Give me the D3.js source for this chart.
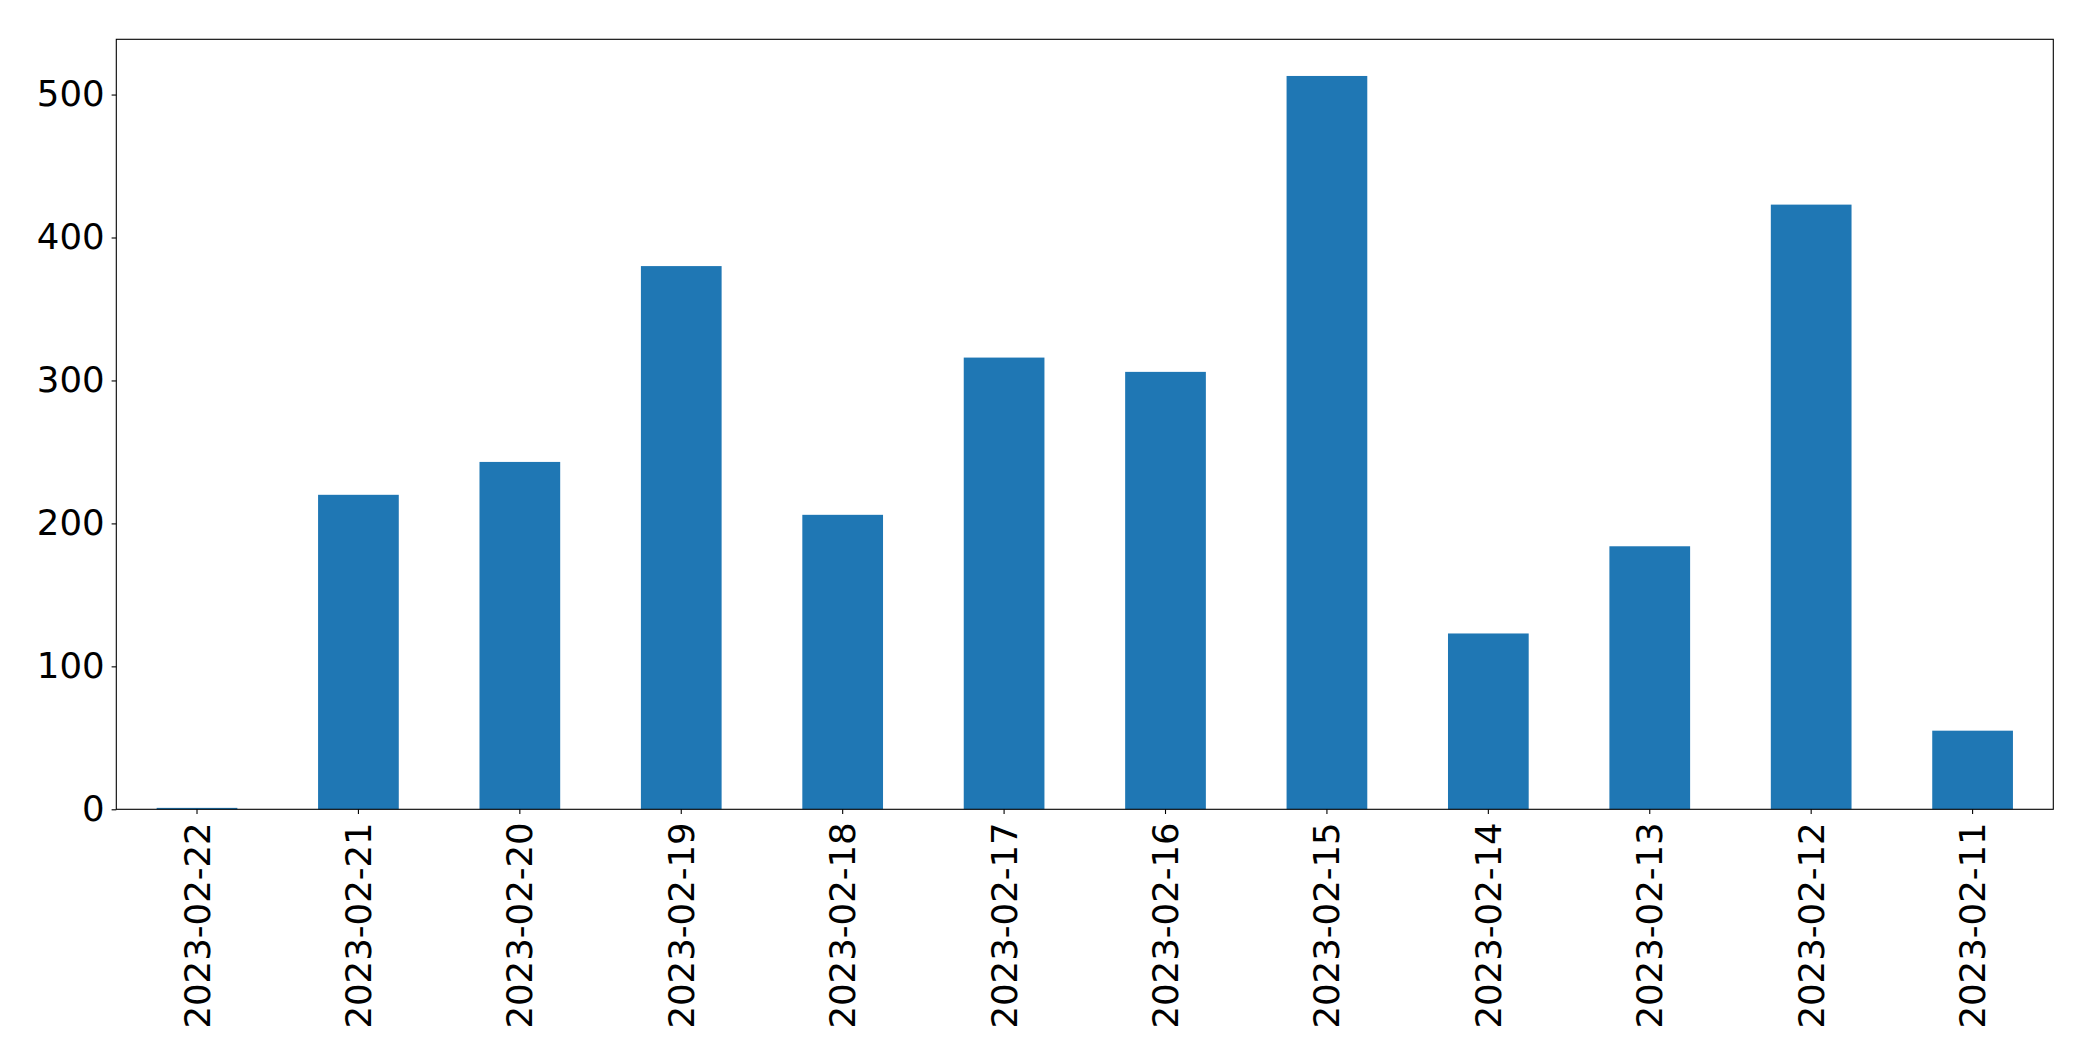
<!DOCTYPE html>
<html>
<head>
<meta charset="utf-8">
<script src="https://cdn.jsdelivr.net/npm/d3@7"></script>
<style>
  html, body { margin: 0; padding: 0; background: #fff; }
  svg { display: block; }
  text { font-family: "DejaVu Sans", sans-serif; fill: #000; }
</style>
</head>
<body>
<svg id="chart" width="2093" height="1061"></svg>
<script>
const categories = ["2023-02-22","2023-02-21","2023-02-20","2023-02-19","2023-02-18","2023-02-17","2023-02-16","2023-02-15","2023-02-14","2023-02-13","2023-02-12","2023-02-11"];
const values = [1, 220, 243, 380, 206, 316, 306, 513, 123, 184, 423, 55];
const yTicks = [0, 100, 200, 300, 400, 500];

const W = 2093, H = 1061;
const margin = { left: 116.3, right: W - 2053.3, top: 39.3, bottom: H - 809.3 };
const svg = d3.select("#chart");
const pw = W - margin.left - margin.right;
const ph = H - margin.top - margin.bottom;

const g = svg.append("g").attr("transform", `translate(${margin.left},${margin.top})`);

const x = d3.scaleBand().domain(categories).range([0, pw]).paddingInner(0.5).paddingOuter(0.25);
const yMax = d3.max(values) * 1.05;
const y = d3.scaleLinear().domain([0, yMax]).range([ph, 0]);

g.selectAll("rect.bar").data(values).join("rect")
  .attr("class", "bar")
  .attr("x", (d, i) => x(categories[i]))
  .attr("width", x.bandwidth())
  .attr("y", d => y(d))
  .attr("height", d => y(0) - y(d))
  .attr("fill", "#1f77b4");

const fs = 35.5;
const yAxis = g.append("g").call(d3.axisLeft(y).tickValues(yTicks).tickSize(4.7).tickPadding(7).tickFormat(d3.format("d")));
yAxis.select(".domain").remove();
yAxis.selectAll("text").style("font-size", fs + "px").style("font-family", "DejaVu Sans");
yAxis.selectAll("line").attr("stroke", "#000").attr("stroke-width", 1.1);

const xAxis = g.append("g").attr("transform", `translate(0,${ph})`)
  .call(d3.axisBottom(x).tickSize(4.7).tickPadding(0));
xAxis.select(".domain").remove();
xAxis.selectAll("line").attr("stroke", "#000").attr("stroke-width", 1.1);
xAxis.selectAll("text")
  .style("font-size", fs + "px").style("font-family", "DejaVu Sans")
  .attr("text-anchor", "end")
  .attr("dy", null)
  .attr("y", 0)
  .attr("dominant-baseline", "central")
  .attr("transform", "translate(0,13) rotate(-90)");

g.append("rect").attr("x", 0).attr("y", 0).attr("width", pw).attr("height", ph)
  .attr("fill", "none").attr("stroke", "#000").attr("stroke-width", 1.1);
</script>
</body>
</html>
